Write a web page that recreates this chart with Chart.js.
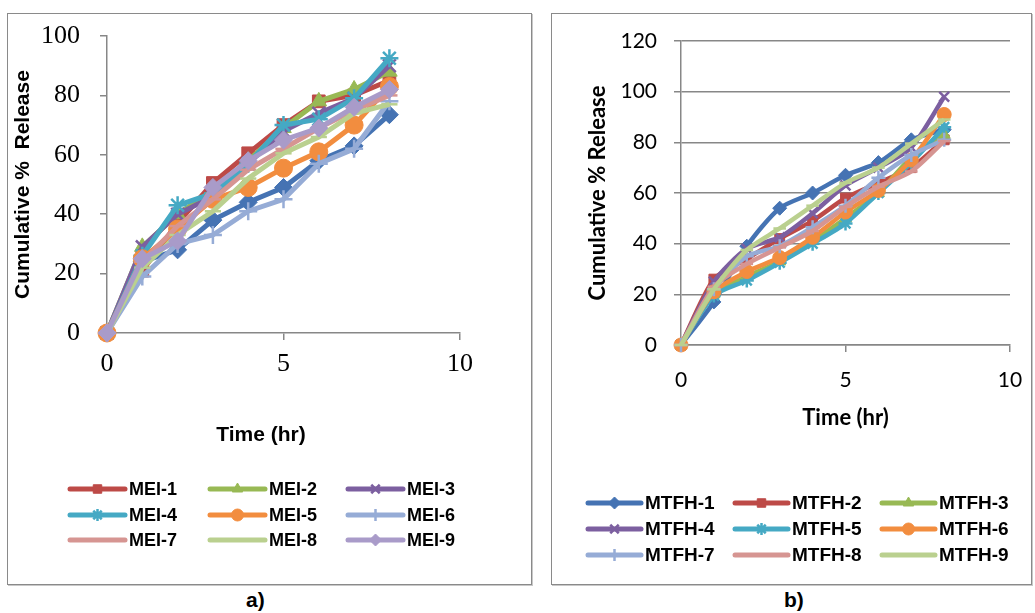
<!DOCTYPE html>
<html>
<head>
<meta charset="utf-8">
<script src="https://cdn.jsdelivr.net/npm/chart.js@4.4.1/dist/chart.umd.min.js"></script>
<style>
  body { margin: 0; background: #fff; width: 1035px; height: 613px; position: relative; overflow: hidden; font-family: 'Liberation Sans', Arial, sans-serif; }
  .panel { position: absolute; border: 1px solid #8a8a8a; box-shadow: 1px 1px 0 #c8c8c8; }
  .panel canvas { position: absolute; left: 0; top: 0; }
  .cap { position: absolute; top: 588px; font-weight: bold; font-size: 21px; color: #000; }
</style>
</head>
<body>
<div class="panel" style="left:7px;top:13px;width:523px;height:570px"><canvas id="mei" width="523" height="570"></canvas></div>
<div class="panel" style="left:551px;top:13px;width:479px;height:570px"><canvas id="mtfh" width="479" height="570"></canvas></div>
<div class="cap" style="left:246px">a)</div>
<div class="cap" style="left:784px">b)</div>

<script>
// sampling times (hr)
const hours = [0, 1, 2, 3, 4, 5, 6, 7, 8];

// panel a) - MEI batches (first series has no legend entry)
const meiBase = [0, 24, 28, 38, 44, 49, 58, 63, 73.5];
const mei1 = [0, 21, 37, 50.5, 60.5, 70, 78, 80, 85];
const mei2 = [0, 29, 40, 48, 58, 69, 78, 82, 88];
const mei3 = [0, 29, 40, 46, 57, 68, 74, 79, 90];
const mei4 = [0, 26, 43, 47, 57, 70, 72, 79, 92.5];
const mei5 = [0, 25, 35, 45, 49, 55.5, 61, 70, 83];
const mei6 = [0, 19, 30, 33, 41, 45, 57, 62, 78];
const mei7 = [0, 24, 36, 45, 55, 62, 69, 75, 80];
const mei8 = [0, 22, 33, 41, 52, 60.5, 66, 74, 77];
const mei9 = [0, 25, 31, 49, 58, 65, 69, 76, 82];
const meiLabels = ['', 'MEI-1', 'MEI-2', 'MEI-3', 'MEI-4', 'MEI-5', 'MEI-6', 'MEI-7', 'MEI-8', 'MEI-9'];

// panel b) - MTFH batches
const mtfh1 = [0, 17, 39, 54, 60, 67, 72, 81, 85];
const mtfh2 = [0, 26, 34, 42, 49, 58, 64, 70, 81];
const mtfh3 = [0, 20, 27, 33, 41, 50, 60, 74, 83];
const mtfh4 = [0, 25, 38, 42.5, 52, 63, 70, 78, 98];
const mtfh5 = [0, 19.5, 25.5, 32.5, 40, 48, 60, 72, 86];
const mtfh6 = [0, 21, 29, 34.5, 42.5, 52.5, 61, 73, 91];
const mtfh7 = [0, 22, 35, 39, 46.5, 55, 66, 75, 81];
const mtfh8 = [0, 23, 32, 38.5, 45, 54.5, 62.5, 68.5, 80.5];
const mtfh9 = [0, 22, 37.5, 46, 55, 64, 70, 79.5, 89];
const mtfhLabels = ['MTFH-1', 'MTFH-2', 'MTFH-3', 'MTFH-4', 'MTFH-5', 'MTFH-6', 'MTFH-7', 'MTFH-8', 'MTFH-9'];

const meiTicks = { min: 0, max: 100, step: 20 };
const mtfhTicks = { min: 0, max: 120, step: 20 };
const timeTicks = { min: 0, max: 10, step: 5 };

// office-style series colours and markers, in series order
const palette = ['#4573b3', '#bd4a47', '#98b954', '#7c5fa0', '#45a9c4', '#f28d3f', '#96acd6', '#d69592', '#bad08f', '#a99bc9'];
const markers = ['rectRot', 'rect', 'triangle', 'crossRot', 'star', 'circle', 'cross', 'line', 'line', 'rectRot'];
const strokeMarkers = ['crossRot', 'star', 'cross', 'line'];

function series(label, values, style, width, radius, tension) {
  const c = palette[style];
  const stroke = strokeMarkers.includes(markers[style]);
  return {
    label: label,
    data: hours.map((h, i) => ({ x: h, y: values[i] })),
    borderColor: c,
    backgroundColor: c,
    borderWidth: width,
    tension: tension,
    pointStyle: markers[style],
    pointRadius: markers[style] === 'line' ? radius * 0.9 : radius,
    pointBackgroundColor: c,
    pointBorderColor: c,
    pointBorderWidth: stroke ? 2.5 : 1,
    order: 20 - style,
    clip: false
  };
}

// three-column legend drawn under the plot, plus an optional free-standing axis caption
const gridLegend = {
  id: 'gridLegend',
  afterDraw(chart, args, opts) {
    const ctx = chart.ctx;
    const items = chart.data.datasets.filter(d => d.label);
    ctx.save();
    ctx.font = opts.font;
    ctx.textBaseline = 'middle';
    ctx.textAlign = 'left';
    items.forEach((ds, i) => {
      const x = opts.cols[i % 3];
      const y = opts.rows[Math.floor(i / 3)];
      ctx.strokeStyle = ds.borderColor;
      ctx.lineWidth = opts.lineWidth;
      ctx.lineCap = 'round';
      ctx.beginPath();
      ctx.moveTo(x, y);
      ctx.lineTo(x + opts.lineLen, y);
      ctx.stroke();
      ctx.fillStyle = ds.pointBackgroundColor;
      ctx.strokeStyle = ds.pointBorderColor;
      ctx.lineWidth = ds.pointBorderWidth;
      ctx.lineCap = 'butt';
      Chart.helpers.drawPoint(ctx, {
        pointStyle: ds.pointStyle, radius: opts.markerRadius, rotation: 0, borderWidth: ds.pointBorderWidth
      }, x + opts.lineLen / 2, y);
      ctx.fillStyle = '#000';
      ctx.fillText(ds.label, x + opts.lineLen + opts.gap, y + 1);
    });
    if (opts.caption) {
      const c = opts.caption;
      ctx.font = c.font;
      ctx.textAlign = 'center';
      ctx.fillStyle = '#000';
      ctx.fillText(c.text, c.x, c.y);
    }
    ctx.restore();
  }
};

const axisGrey = '#878787';

function axis(t, tickFont, tickPad, title, titleFont, titlePad, size, isY, gridOn) {
  return {
    type: 'linear',
    min: t.min,
    max: t.max,
    ticks: { stepSize: t.step, color: '#000', font: tickFont, padding: tickPad, maxRotation: 0 },
    grid: { drawOnChartArea: gridOn, drawTicks: true, tickLength: 7, color: axisGrey, tickColor: axisGrey, lineWidth: 1.5 },
    border: { display: true, color: axisGrey, width: 1.5 },
    title: { display: !!title, text: title, color: '#000', font: titleFont, padding: titlePad },
    afterFit(s) {
      if (isY) s.width = size; else s.height = size;
      // plot area edges come from the layout padding alone
      s.paddingTop = s.paddingBottom = s.paddingLeft = s.paddingRight = 0;
    }
  };
}

const meiData = [meiBase, mei1, mei2, mei3, mei4, mei5, mei6, mei7, mei8, mei9];
new Chart(document.getElementById('mei'), {
  type: 'line',
  data: { datasets: meiData.map((v, i) => series(meiLabels[i], v, i, 5, 9, 0)) },
  options: {
    responsive: false,
    animation: false,
    events: [],
    layout: { padding: { left: 0, top: 22, right: 71, bottom: 138 } },
    plugins: {
      legend: { display: false },
      tooltip: { enabled: false },
      gridLegend: {
        font: 'bold 18px "Liberation Sans", Arial, sans-serif',
        cols: [62, 202, 340], rows: [475, 501, 526],
        lineLen: 55, lineWidth: 5, markerRadius: 6, gap: 4,
        // the time caption sits a little left of the plot centre
        caption: { text: 'Time (hr)', x: 253, y: 421, font: 'bold 21px "Liberation Sans", Arial, sans-serif' }
      }
    },
    scales: {
      x: axis(timeTicks, { family: 'Liberation Serif', size: 26 }, 9, '',
        null, { top: 0, bottom: 0 }, 113, false, false),
      y: axis(meiTicks, { family: 'Liberation Serif', size: 26 }, 20, 'Cumulative %  Release',
        { family: 'Liberation Sans', size: 21, weight: 'bold' }, { top: 3, bottom: 0 }, 99, true, false)
    }
  },
  plugins: [gridLegend]
});

const mtfhData = [mtfh1, mtfh2, mtfh3, mtfh4, mtfh5, mtfh6, mtfh7, mtfh8, mtfh9];
new Chart(document.getElementById('mtfh'), {
  type: 'line',
  data: { datasets: mtfhData.map((v, i) => series(mtfhLabels[i], v, i, 4.5, 7, 0.25)) },
  options: {
    responsive: false,
    animation: false,
    events: [],
    layout: { padding: { left: 0, top: 27, right: 21, bottom: 153 } },
    plugins: {
      legend: { display: false },
      tooltip: { enabled: false },
      gridLegend: {
        font: 'bold 19px "Liberation Sans", Arial, sans-serif',
        cols: [36, 183, 330], rows: [489, 515, 541],
        lineLen: 53, lineWidth: 5, markerRadius: 6, gap: 4
      }
    },
    scales: {
      x: axis(timeTicks, { family: 'Lato', size: 21 }, 16, 'Time (hr)',
        { family: 'Lato', size: 22, weight: 'bold' }, { top: 0, bottom: 0 }, 86, false, false),
      y: axis(mtfhTicks, { family: 'Lato', size: 21 }, 17, 'Cumulative % Release',
        { family: 'Lato', size: 22, weight: 'bold' }, { top: 33, bottom: 0 }, 129, true, true)
    }
  },
  plugins: [gridLegend]
});
</script>
</body>
</html>
